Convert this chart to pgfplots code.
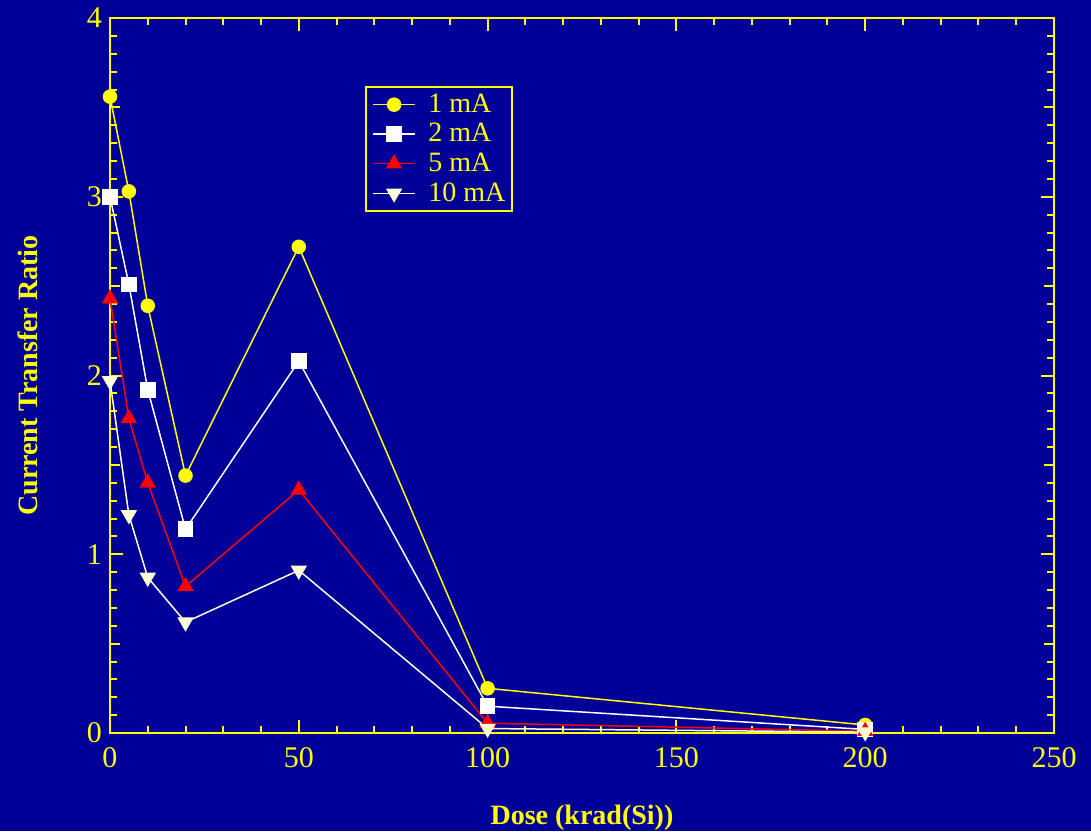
\documentclass[border=0pt]{standalone}
\usepackage{fontspec}
\setmainfont{Liberation Serif}
\usepackage{pgfplots}
\pgfplotsset{compat=1.18}
\definecolor{bgblue}{RGB}{0,0,153}
\definecolor{ivory}{RGB}{255,255,215}
\definecolor{ylw}{RGB}{255,255,0}
\begin{document}
\begin{tikzpicture}
\path[use as bounding box, fill=bgblue] (-55pt,-49pt) rectangle (490.5pt,366.5pt);
\begin{axis}[
  at={(0,0)}, anchor=south west, scale only axis,
  width=472pt, height=357.5pt,
  xmin=0, xmax=250, ymin=0, ymax=4,
  xtick={0,50,...,250}, ytick={0,1,2,3,4},
  minor x tick num=4, minor y tick num=9,
  extra y ticks={0.5,1.5,2.5,3.5}, extra y tick labels={},
  extra y tick style={major tick length=5pt},
  major tick length=6.5pt, minor tick length=3.5pt,
  axis line style={ylw, line width=1pt},
  every tick/.style={ylw, line width=1pt},
  tick label style={font=\fontsize{15}{15}\selectfont, text=ylw},
  xticklabel style={yshift=-3.5pt},
  yticklabel style={xshift=-0.5pt},
  /pgf/number format/assume math mode=true,
  xlabel={Dose (krad(Si))},
  ylabel={Current Transfer Ratio},
  label style={font=\fontsize{14}{14}\selectfont\bfseries, text=ylw},
  xlabel style={at={(axis description cs:0.5,-0.119)}, anchor=center},
  ylabel style={at={(axis description cs:-0.0869,0.5)}, anchor=center},
  clip=false,
  legend cell align=left,
  legend image code/.code={\draw[mark repeat=2,mark phase=2] plot coordinates {(0.06cm,0cm)(0.43cm,0cm)(0.80cm,0cm)};\path (0cm,0cm) (0.95cm,0cm);},
  legend style={at={(axis description cs:0.27,0.905)}, anchor=north west,
    fill=bgblue, draw=ylw, line width=1pt, text=ylw,
    font=\fontsize{14}{16.8}\selectfont, inner xsep=1.5pt, inner ysep=1.5pt,
    row sep=0pt},
]
\addplot[ylw, line width=0.75pt, mark=*, mark size=3.25pt, mark options={fill=ylw, draw=ylw}]
  coordinates {(0,3.56)(5,3.03)(10,2.39)(20,1.44)(50,2.72)(100,0.25)(200,0.045)};
\addlegendentry{1 mA}
\addplot[white, line width=0.75pt, mark=square*, mark size=3.5pt, mark options={fill=white, draw=white}]
  coordinates {(0,3.00)(5,2.51)(10,1.92)(20,1.14)(50,2.08)(100,0.15)(200,0.02)};
\addlegendentry{2 mA}
\addplot[red, line width=0.75pt, mark=triangle*, mark size=4pt, mark options={fill=red, draw=red}]
  coordinates {(0,2.43)(5,1.76)(10,1.40)(20,0.82)(50,1.36)(100,0.055)(200,0.01)};
\addlegendentry{5 mA}
\addplot[ivory, line width=0.75pt, mark=triangle*, mark size=4pt, mark options={fill=ivory, draw=ivory, rotate=180}]
  coordinates {(0,1.97)(5,1.22)(10,0.87)(20,0.62)(50,0.91)(100,0.025)(200,0.005)};
\addlegendentry{10 mA}
\end{axis}
\end{tikzpicture}
\end{document}
